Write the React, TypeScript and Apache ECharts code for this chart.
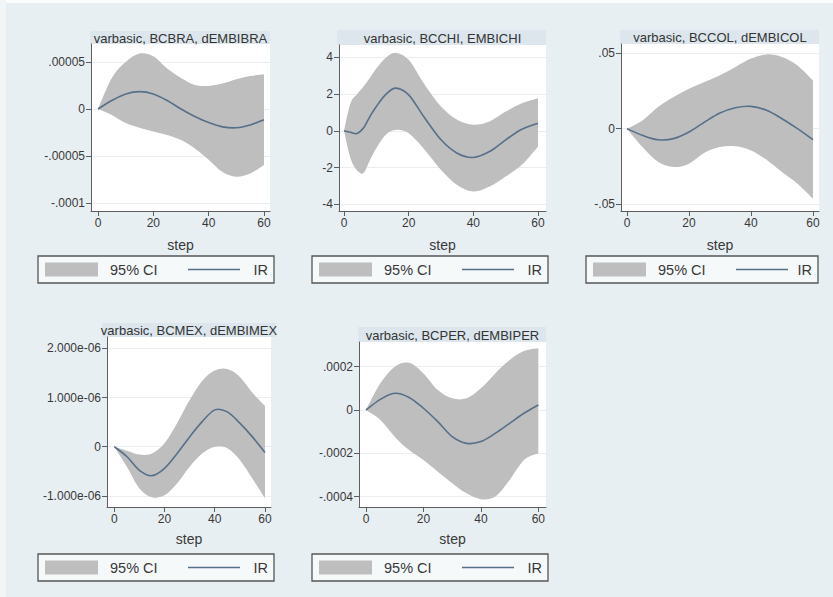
import React, { useEffect, useRef } from "react";
import * as echarts from "echarts";

// ---- data: impulse responses with 95% confidence bands ----
const titles = [
  "varbasic, BCBRA, dEMBIBRA",
  "varbasic, BCCHI, EMBICHI",
  "varbasic, BCCOL, dEMBICOL",
  "varbasic, BCMEX, dEMBIMEX",
  "varbasic, BCPER, dEMBIPER",
];

const stepsStd = [0, 5, 10, 15, 20, 25, 30, 35, 40, 45, 50, 55, 60];
const stepsChi = [0, 2, 4, 6, 8, 10, 13, 16, 20, 25, 30, 35, 40, 45, 50, 55, 60];

const irBRA = [0, 0.9e-5, 1.6e-5, 1.85e-5, 1.6e-5, 0.9e-5, 0, -0.8e-5, -1.45e-5, -1.9e-5, -2.0e-5, -1.7e-5, -1.15e-5];
const hiBRA = [0, 3.3e-5, 5.0e-5, 5.9e-5, 5.6e-5, 4.3e-5, 3.3e-5, 2.55e-5, 2.45e-5, 2.7e-5, 3.15e-5, 3.5e-5, 3.7e-5];
const loBRA = [0, -0.64e-5, -1.5e-5, -2.0e-5, -2.4e-5, -2.77e-5, -3.3e-5, -4.2e-5, -5.4e-5, -6.7e-5, -7.2e-5, -6.85e-5, -5.95e-5];

const irCHI = [0, -0.08, -0.15, 0.15, 0.78, 1.33, 2.0, 2.33, 1.96, 0.69, -0.49, -1.22, -1.45, -1.13, -0.49, 0.09, 0.42];
const hiCHI = [0, 1.5, 2.0, 2.4, 2.9, 3.4, 4.0, 4.25, 3.87, 2.5, 1.33, 0.6, 0.33, 0.51, 1.05, 1.5, 1.78];
const loCHI = [0, -1.5, -2.15, -2.3, -1.6, -0.95, -0.2, 0.05, -0.13, -1.04, -2.13, -2.95, -3.31, -3.04, -2.49, -1.85, -0.85];

const irCOL = [0, -0.0044, -0.0073, -0.0066, -0.0022, 0.0044, 0.0104, 0.0139, 0.0148, 0.0122, 0.0066, 0, -0.0073];
const hiCOL = [0, 0.0055, 0.0144, 0.021, 0.0265, 0.031, 0.0354, 0.041, 0.0465, 0.0493, 0.0476, 0.042, 0.032];
const loCOL = [0, -0.0122, -0.022, -0.0254, -0.0232, -0.016, -0.0122, -0.0117, -0.0144, -0.0206, -0.0288, -0.0365, -0.0465];

const irMEX = [0, -0.2e-6, -0.48e-6, -0.59e-6, -0.44e-6, -0.14e-6, 0.2e-6, 0.51e-6, 0.75e-6, 0.71e-6, 0.48e-6, 0.2e-6, -0.12e-6];
const hiMEX = [0, -0.08e-6, -0.16e-6, -0.14e-6, 0.07e-6, 0.48e-6, 0.95e-6, 1.34e-6, 1.55e-6, 1.58e-6, 1.42e-6, 1.1e-6, 0.83e-6];
const loMEX = [0, -0.41e-6, -0.85e-6, -1.03e-6, -0.99e-6, -0.75e-6, -0.41e-6, -0.14e-6, 0, -0.03e-6, -0.27e-6, -0.65e-6, -1.05e-6];

const irPER = [0, 0.49e-4, 0.77e-4, 0.58e-4, 0.08e-4, -0.54e-4, -1.23e-4, -1.54e-4, -1.46e-4, -1.08e-4, -0.62e-4, -0.15e-4, 0.23e-4];
const hiPER = [0, 1.23e-4, 2.0e-4, 2.18e-4, 1.69e-4, 0.92e-4, 0.54e-4, 0.54e-4, 1.0e-4, 1.69e-4, 2.31e-4, 2.72e-4, 2.85e-4];
const loPER = [0, -0.46e-4, -1.23e-4, -1.85e-4, -2.31e-4, -2.85e-4, -3.38e-4, -3.85e-4, -4.12e-4, -4.0e-4, -3.23e-4, -2.31e-4, -2.0e-4];

const xTicks = [0, 20, 40, 60];

const yTicksBRA = [0.00005, 0, -0.00005, -0.0001];
const yLabelsBRA = [".00005", "0", "-.00005", "-.0001"];
const yTicksCHI = [4, 2, 0, -2, -4];
const yLabelsCHI = ["4", "2", "0", "-2", "-4"];
const yTicksCOL = [0.05, 0, -0.05];
const yLabelsCOL = [".05", "0", "-.05"];
const yTicksMEX = [2e-6, 1e-6, 0, -1e-6];
const yLabelsMEX = ["2.000e-06", "1.000e-06", "0", "-1.000e-06"];
const yTicksPER = [0.0002, 0, -0.0002, -0.0004];
const yLabelsPER = [".0002", "0", "-.0002", "-.0004"];

const legendNames = ["95% CI", "IR"];

// ---- layout / styling ----
const FONT = "'Liberation Sans', Arial, sans-serif";
const BG = "#e8eff2";
const BAND = "#bebebe";
const LINE = "#56708a";
const TXT = "#383838";
const AXIS = "#5e5e5e";

type Panel = {
  steps: number[];
  ir: number[];
  hi: number[];
  lo: number[];
  yTicks: number[];
  yLabels: string[];
  plot: { l: number; r: number; t: number; b: number };
  xr: [number, number];
  yr: [number, number];
  band: { x0: number; x1: number; y0: number; y1: number };
  legend: { x0: number; x1: number; y0: number; y1: number };
  nameGap: number;
};

const panels: Panel[] = [
  {
    steps: stepsStd, ir: irBRA, hi: hiBRA, lo: loBRA,
    yTicks: yTicksBRA, yLabels: yLabelsBRA,
    plot: { l: 91, r: 270, t: 44, b: 211 }, xr: [-2.53, 62.17], yr: [-1.085e-4, 6.91e-5],
    band: { x0: 90, x1: 270, y0: 31, y1: 44 }, legend: { x0: 38, x1: 274, y0: 256, y1: 283 }, nameGap: 27,
  },
  {
    steps: stepsChi, ir: irCHI, hi: hiCHI, lo: loCHI,
    yTicks: yTicksCHI, yLabels: yLabelsCHI,
    plot: { l: 339, r: 546, t: 45, b: 211 }, xr: [-1.55, 62.47], yr: [-4.37, 4.68],
    band: { x0: 337, x1: 546, y0: 30, y1: 45 }, legend: { x0: 312, x1: 548, y0: 256, y1: 283 }, nameGap: 27,
  },
  {
    steps: stepsStd, ir: irCOL, hi: hiCOL, lo: loCOL,
    yTicks: yTicksCOL, yLabels: yLabelsCOL,
    plot: { l: 621, r: 819, t: 44, b: 211 }, xr: [-1.94, 61.94], yr: [-0.0546, 0.0562],
    band: { x0: 620, x1: 819, y0: 30, y1: 44 }, legend: { x0: 586, x1: 818, y0: 256, y1: 283 }, nameGap: 27,
  },
  {
    steps: stepsStd, ir: irMEX, hi: hiMEX, lo: loMEX,
    yTicks: yTicksMEX, yLabels: yLabelsMEX,
    plot: { l: 107, r: 271, t: 337, b: 507 }, xr: [-2.9, 62.4], yr: [-1.228e-6, 2.234e-6],
    band: { x0: 102, x1: 276, y0: 323, y1: 337 }, legend: { x0: 38, x1: 274, y0: 554, y1: 581 }, nameGap: 25,
  },
  {
    steps: stepsStd, ir: irPER, hi: hiPER, lo: loPER,
    yTicks: yTicksPER, yLabels: yLabelsPER,
    plot: { l: 359, r: 546, t: 342, b: 507 }, xr: [-2.44, 62.67], yr: [-0.000448, 0.000314],
    band: { x0: 358, x1: 546, y0: 327, y1: 342 }, legend: { x0: 312, x1: 548, y0: 554, y1: 581 }, nameGap: 25,
  },
];

function nearestLabel(v: number, ticks: number[], labels: string[]) {
  let best = 0;
  for (let k = 1; k < ticks.length; k++) {
    if (Math.abs(ticks[k] - v) < Math.abs(ticks[best] - v)) best = k;
  }
  return labels[best];
}

// Catmull-Rom spline through pixel points, written as cubic Bezier segments.
function splinePath(pts: number[][], start: "M" | "L") {
  let d = `${start}${pts[0][0].toFixed(2)},${pts[0][1].toFixed(2)}`;
  for (let k = 0; k < pts.length - 1; k++) {
    const p0 = pts[k - 1] || pts[k];
    const p1 = pts[k];
    const p2 = pts[k + 1];
    const p3 = pts[k + 2] || p2;
    const c1x = p1[0] + (p2[0] - p0[0]) / 6;
    const c1y = p1[1] + (p2[1] - p0[1]) / 6;
    const c2x = p2[0] - (p3[0] - p1[0]) / 6;
    const c2y = p2[1] - (p3[1] - p1[1]) / 6;
    d += ` C${c1x.toFixed(2)},${c1y.toFixed(2)} ${c2x.toFixed(2)},${c2y.toFixed(2)} ${p2[0].toFixed(2)},${p2[1].toFixed(2)}`;
  }
  return d;
}

function legendGraphic(b: Panel["legend"]) {
  const cy = (b.y0 + b.y1) / 2;
  return [
    {
      type: "rect",
      shape: { x: b.x0, y: b.y0, width: b.x1 - b.x0, height: b.y1 - b.y0 },
      style: { fill: "#f6f9fa", stroke: "#555", lineWidth: 1.3 },
    },
    {
      type: "rect",
      shape: { x: b.x0 + 7, y: cy - 7, width: 53, height: 14 },
      style: { fill: BAND },
    },
    {
      type: "text",
      x: b.x0 + 72, y: cy,
      style: { text: legendNames[0], font: `14.5px ${FONT}`, fill: TXT, textVerticalAlign: "middle", textAlign: "left" },
    },
    {
      type: "line",
      shape: { x1: b.x0 + 150, y1: cy, x2: b.x0 + 202, y2: cy },
      style: { stroke: LINE, lineWidth: 1.6 },
    },
    {
      type: "text",
      x: b.x1 - 6, y: cy,
      style: { text: legendNames[1], font: `14.5px ${FONT}`, fill: TXT, textVerticalAlign: "middle", textAlign: "right" },
    },
  ];
}

function buildOption() {
  const grid: any[] = [];
  const xAxis: any[] = [];
  const yAxis: any[] = [];
  const series: any[] = [];
  const graphic: any[] = [
    { type: "rect", shape: { x: 0, y: 0, width: 833, height: 3 }, style: { fill: "#fbfcfc" } },
    { type: "rect", shape: { x: 0, y: 0, width: 6, height: 597 }, style: { fill: "#f1f5f6" } },
  ];

  panels.forEach((p, i) => {
    grid.push({
      left: p.plot.l,
      top: p.plot.t,
      width: p.plot.r - p.plot.l,
      height: p.plot.b - p.plot.t,
      show: true,
      backgroundColor: "#ffffff",
      borderWidth: 0,
      containLabel: false,
      outerBoundsMode: "none",
    });
    xAxis.push({
      type: "value",
      gridIndex: i,
      min: p.xr[0],
      max: p.xr[1],
      name: "step",
      nameLocation: "middle",
      nameGap: p.nameGap,
      nameTextStyle: { fontFamily: FONT, fontSize: 14, color: TXT },
      axisLine: { show: true, onZero: false, lineStyle: { color: AXIS, width: 1 } },
      axisTick: { show: true, customValues: xTicks, length: 5, lineStyle: { color: AXIS } },
      axisLabel: { customValues: xTicks, fontFamily: FONT, fontSize: 12, color: TXT, margin: 6 },
      splitLine: { show: false },
    });
    yAxis.push({
      type: "value",
      gridIndex: i,
      min: p.yr[0],
      max: p.yr[1],
      axisLine: { show: true, onZero: false, lineStyle: { color: AXIS, width: 1 } },
      axisTick: { show: true, customValues: p.yTicks, length: 5, lineStyle: { color: AXIS } },
      axisLabel: {
        customValues: p.yTicks,
        fontFamily: FONT,
        fontSize: 12,
        color: TXT,
        margin: 6,
        formatter: (v: number) => nearestLabel(v, p.yTicks, p.yLabels),
      },
      splitLine: { show: true, lineStyle: { color: "#eaeef0", width: 1 } },
    });

    const rows = p.steps.map((s, k) => [s, p.lo[k], p.hi[k], p.ir[k]]);

    // 95% band: upper bound left-to-right, lower bound back, filled.
    series.push({
      type: "custom",
      name: legendNames[0],
      xAxisIndex: i,
      yAxisIndex: i,
      silent: true,
      encode: { x: 0, y: [1, 2] },
      data: rows,
      renderItem: (params: any, api: any) => {
        if (params.dataIndex !== 0) return null;
        const upper = rows.map((r) => api.coord([r[0], r[2]]));
        const lower = rows.map((r) => api.coord([r[0], r[1]])).reverse();
        const d = splinePath(upper, "M") + " " + splinePath(lower, "L") + " Z";
        return { type: "path", shape: { pathData: d }, style: { fill: BAND, stroke: "none" } };
      },
    });

    // impulse response line
    series.push({
      type: "custom",
      name: legendNames[1],
      xAxisIndex: i,
      yAxisIndex: i,
      silent: true,
      encode: { x: 0, y: 3 },
      data: rows,
      renderItem: (params: any, api: any) => {
        if (params.dataIndex !== 0) return null;
        const pts = rows.map((r) => api.coord([r[0], r[3]]));
        return {
          type: "path",
          shape: { pathData: splinePath(pts, "M") },
          style: { fill: "none", stroke: LINE, lineWidth: 1.6 },
        };
      },
    });

    // panel title strip
    graphic.push({
      type: "rect",
      shape: { x: p.band.x0, y: p.band.y0, width: p.band.x1 - p.band.x0, height: p.band.y1 - p.band.y0 },
      style: { fill: "#dce6ec" },
    });
    graphic.push({
      type: "text",
      x: (p.plot.l + p.plot.r) / 2,
      y: (p.band.y0 + p.band.y1) / 2 + 0.5,
      style: {
        text: titles[i],
        font: `13px ${FONT}`,
        fill: "#333",
        textAlign: "center",
        textVerticalAlign: "middle",
      },
    });
    graphic.push(...legendGraphic(p.legend));
  });

  return {
    animation: false,
    backgroundColor: BG,
    grid,
    xAxis,
    yAxis,
    series,
    graphic,
  };
}

export default function App() {
  const ref = useRef<HTMLDivElement>(null);
  useEffect(() => {
    if (!ref.current) return;
    const chart = echarts.init(ref.current, null, { renderer: "svg" });
    chart.setOption(buildOption() as any);
    return () => chart.dispose();
  }, []);
  return (
    <div
      ref={ref}
      style={{ position: "absolute", left: 0, top: 0, width: 833, height: 597 }}
    />
  );
}
